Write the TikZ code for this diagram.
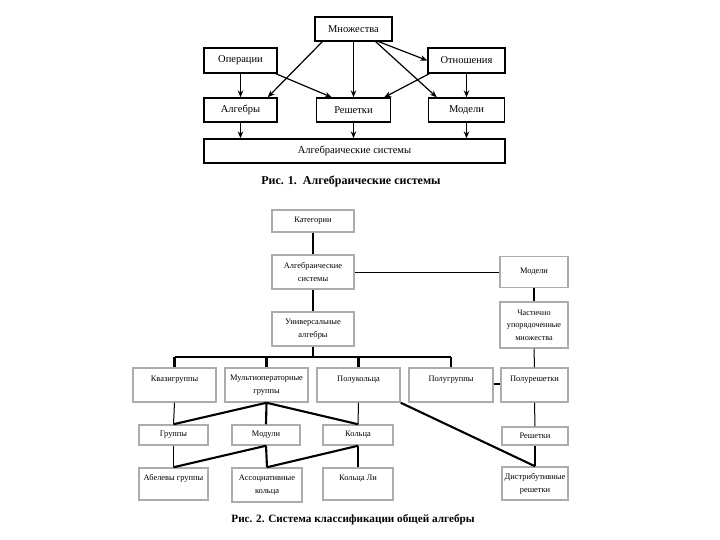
\documentclass[tikz,border=0pt]{standalone}
\usepackage{fontspec}
\setmainfont{Liberation Serif}
\usetikzlibrary{arrows.meta}
\begin{document}
\begin{tikzpicture}[x=1pt,y=-1pt,
  boxa/.style={draw, line width=1.3pt, inner sep=0pt, font=\fontsize{10.5}{12}\selectfont},
  boxb/.style={draw=gray!65, line width=1.5pt, inner sep=0pt, align=center, font=\fontsize{8.4}{13}\selectfont},
  arr/.style={line width=1.2pt, -{Stealth[length=7pt,width=5.5pt]}},
  thk/.style={line width=2.1pt},
  thn/.style={line width=1pt},
  captext/.style={font=\bfseries\fontsize{12}{14}\selectfont},
  captextb/.style={font=\bfseries\fontsize{11.2}{13}\selectfont}]
\useasboundingbox (0,0) rectangle (720,540);
% ---------- Fig 1 ----------
\node[boxa, minimum width=77, minimum height=24] (mn) at (353.5,29) {Множества};
\node[boxa, minimum width=73, minimum height=25] (op) at (240.5,60.5) {Операции};
\node[boxa, minimum width=77, minimum height=25] (ot) at (466.5,60.5) {Отношения};
\node[boxa, minimum width=73, minimum height=24] (al) at (240.5,110) {Алгебры};
\node[boxa, minimum width=74, minimum height=24] (re) at (353.5,110) {Решетки};
\node[boxa, minimum width=76, minimum height=24] (mo) at (466.5,110) {Модели};
\node[boxa, minimum width=301, minimum height=24] (as) at (354.5,151) {Алгебраические системы};
\node[captext] (c1) at (351,181) {Рис. 1.\ \ Алгебраические системы};
\draw[arr] ([xshift=8pt]mn.south west) -- ([xshift=-10pt]al.north east);
\draw[arr] (mn.south) -- (re.north);
\draw[arr] ([xshift=-14pt]mn.south east) -- (ot.west);
\draw[arr] ([xshift=-17pt]mn.south east) -- ([xshift=9pt]mo.north west);
\draw[arr] ([xshift=-2pt]op.south east) -- ([xshift=16pt]re.north west);
\draw[arr] ([xshift=2pt]ot.south west) -- ([xshift=-7pt]re.north east);
\draw[arr] (op.south) -- (al.north);
\draw[arr] (ot.south) -- (mo.north);
\draw[arr] (al.south) -- (al.south |- as.north);
\draw[arr] (re.south) -- (re.south |- as.north);
\draw[arr] (mo.south) -- (mo.south |- as.north);
% ---------- Fig 2 ----------
\node[boxb, minimum width=82, minimum height=22] (ka) at (313,221) {Категории};
\node[boxb, minimum width=82, minimum height=34] (asy) at (313,272) {Алгебраические\\системы};
\node[boxb, minimum width=82, minimum height=34] (ua) at (313,329) {Универсальные\\алгебры};
\node[boxb, minimum width=68, minimum height=31] (mod) at (534,272) {Модели};
\node[boxb, minimum width=68, minimum height=46, font=\fontsize{8.2}{12.5}\selectfont] (chum) at (534,325) {Частично\\упорядоченные\\множества};
\node[boxb, minimum width=83, minimum height=34] (kv) at (174.5,385) {Квазигруппы\\\phantom{X}};
\node[boxb, minimum width=83, minimum height=34] (mg) at (266.5,385) {Мультиоператорные\\группы};
\node[boxb, minimum width=83, minimum height=34] (pk) at (358.5,385) {Полукольца\\\phantom{X}};
\node[boxb, minimum width=84, minimum height=34] (pg) at (451,385) {Полугруппы\\\phantom{X}};
\node[boxb, minimum width=67, minimum height=34] (pr) at (534.5,385) {Полурешетки\\\phantom{X}};
\node[boxb, minimum width=69, minimum height=20] (gr) at (173.5,435) {Группы};
\node[boxb, minimum width=68, minimum height=20] (md) at (266,435) {Модули};
\node[boxb, minimum width=70, minimum height=20] (kl) at (358,435) {Кольца};
\node[boxb, minimum width=66, minimum height=18] (rs) at (535,436) {Решетки};
\node[boxb, minimum width=69, minimum height=32] (ab) at (173.5,484) {Абелевы группы\\\phantom{X}};
\node[boxb, minimum width=70, minimum height=34] (ak) at (267,485) {Ассоциативные\\кольца};
\node[boxb, minimum width=70, minimum height=32] (kli) at (358,484) {Кольца Ли\\\phantom{X}};
\node[boxb, minimum width=66, minimum height=33] (dr) at (535,483.5) {Дистрибутивные\\решетки};
\node[captextb] (c2) at (353,520) {Рис. 2. Система классификации общей алгебры};
\coordinate (busL) at (kv.north |- 0,357);
\coordinate (busR) at (pg.north |- 0,357);
\draw[thk] (ka.south) -- (asy.north);
\draw[thk] (asy.south) -- (ua.north);
\draw[thn] (asy.east) -- (asy.east -| mod.west);
\draw[thk] (mod.south) -- (chum.north);
\draw[thn] (chum.south) -- (pr.north);
\draw[thk] (ua.south) -- (ua.south |- busL);
\draw[thk] (busL) -- (busR);
\draw[thk] (busL) -- (kv.north);
\draw[thk] (mg.north |- busL) -- (mg.north);
\draw[thk] (pk.north |- busL) -- (pk.north);
\draw[thk] (busR) -- (pg.north);
\draw[thk] (pg.east |- 0,384) -- (pr.west |- 0,384);
\draw[thn] (pr.south) -- (rs.north);
\draw[thn] (kv.south) -- (gr.north);
\draw[thk] (mg.south) -- (gr.north);
\draw[thk] (mg.south) -- (md.north);
\draw[thk] (mg.south) -- (kl.north);
\draw[thn] (pk.south) -- (kl.north);
\draw[thk] (pk.south east) -- (dr.north);
\draw[thn] (gr.south) -- (ab.north);
\draw[thk] (md.south) -- (ab.north);
\draw[thk] (md.south) -- (ak.north);
\draw[thk] (kl.south) -- (ak.north);
\draw[thk] (kl.south) -- (kli.north);
\draw[thk] (rs.south) -- (dr.north);
\end{tikzpicture}
\end{document}
